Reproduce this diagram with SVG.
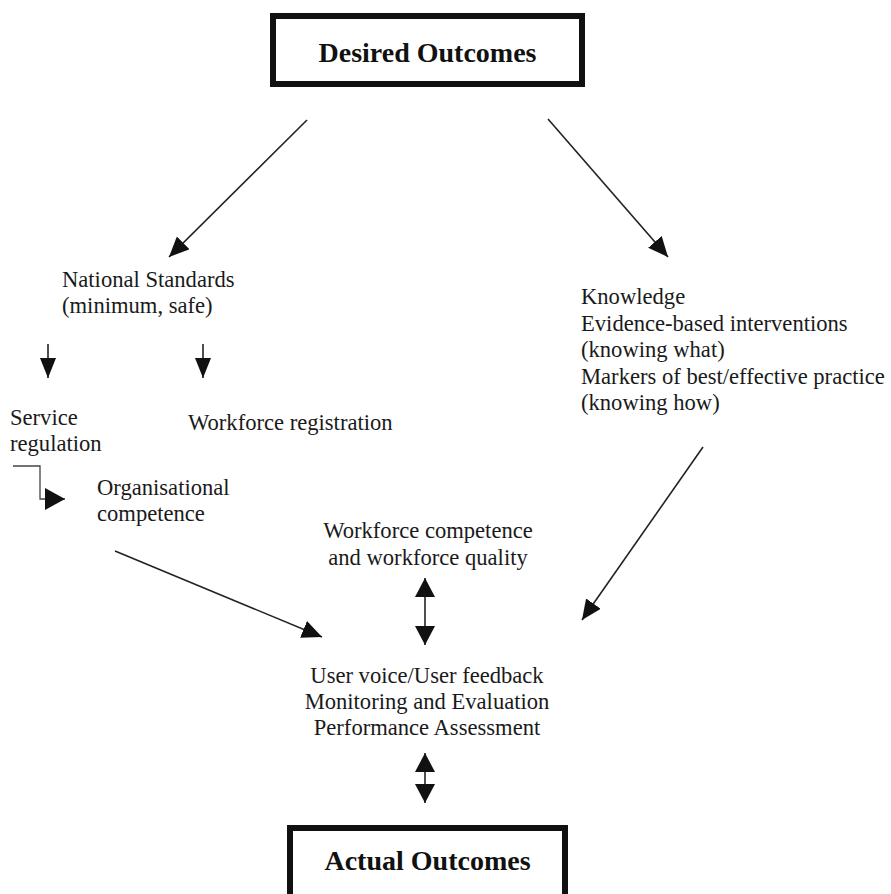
<svg xmlns="http://www.w3.org/2000/svg" width="891" height="894" viewBox="0 0 891 894">
<style>
  .t { font-family: "Liberation Serif", "Times New Roman", serif; font-size: 22.6px; fill: #1a1a1a; }
  .b { font-family: "Liberation Serif", "Times New Roman", serif; font-size: 28px; font-weight: bold; fill: #111; }
  .c { text-anchor: middle; }
  .box { fill: #fff; stroke: #111; stroke-width: 6; }
  .ln { fill: none; stroke: #222; stroke-width: 1.6; }
  .thin { fill: none; stroke: #444; stroke-width: 1.3; }
</style>
<defs>
  <marker id="ah" markerUnits="userSpaceOnUse" markerWidth="20" markerHeight="18" refX="20" refY="9" orient="auto-start-reverse">
    <path d="M0,0 L20,9 L0,18 z" fill="#111"/>
  </marker>
  <marker id="ahs" markerUnits="userSpaceOnUse" markerWidth="20" markerHeight="16" refX="20" refY="8" orient="auto-start-reverse">
    <path d="M0,0 L20,8 L0,16 z" fill="#111"/>
  </marker>
  <marker id="ahd" markerUnits="userSpaceOnUse" markerWidth="19" markerHeight="20" refX="19" refY="10" orient="auto-start-reverse">
    <path d="M0,0 L19,10 L0,20 z" fill="#111"/>
  </marker>
  <marker id="ahe" markerUnits="userSpaceOnUse" markerWidth="20" markerHeight="22" refX="20" refY="11" orient="auto">
    <path d="M0,0 L20,11 L0,22 z" fill="#111"/>
  </marker>
</defs>
<rect width="891" height="894" fill="#fff"/>

<g id="connectors">
  <line class="ln" x1="307" y1="120" x2="169" y2="257" marker-end="url(#ah)"/>
  <line class="ln" x1="548" y1="119" x2="668" y2="257" marker-end="url(#ah)"/>
  <line class="ln" x1="48" y1="344" x2="48" y2="378" marker-end="url(#ahs)"/>
  <line class="ln" x1="203" y1="344" x2="203" y2="378" marker-end="url(#ahs)"/>
  <polyline class="thin" points="13,466 40,466 40,499 65,499" marker-end="url(#ahe)"/>
  <line class="ln" x1="115" y1="551" x2="322" y2="637" marker-end="url(#ah)"/>
  <line class="ln" x1="703" y1="447" x2="582" y2="620" marker-end="url(#ah)"/>
  <line class="ln" x1="425" y1="578" x2="425" y2="645" marker-start="url(#ahd)" marker-end="url(#ahd)"/>
  <line class="ln" x1="425" y1="753" x2="425" y2="803" marker-start="url(#ahd)" marker-end="url(#ahd)"/>
</g>

<g id="desired-outcomes">
  <rect class="box" x="273" y="16" width="309" height="68"/>
  <text class="b c" x="427.5" y="62">Desired Outcomes</text>
</g>

<g id="national-standards">
  <text class="t" x="62" y="287">National Standards</text>
  <text class="t" x="62" y="313">(minimum, safe)</text>
</g>

<g id="knowledge">
  <text class="t" x="581" y="304">Knowledge</text>
  <text class="t" x="581" y="331">Evidence-based interventions</text>
  <text class="t" x="581" y="357">(knowing what)</text>
  <text class="t" x="581" y="384">Markers of best/effective practice</text>
  <text class="t" x="581" y="410">(knowing how)</text>
</g>

<g id="service-regulation">
  <text class="t" x="10" y="425">Service</text>
  <text class="t" x="10" y="451">regulation</text>
</g>

<g id="workforce-registration">
  <text class="t" x="188" y="430">Workforce registration</text>
</g>

<g id="organisational-competence">
  <text class="t" x="97" y="495">Organisational</text>
  <text class="t" x="97" y="521">competence</text>
</g>

<g id="workforce-competence">
  <text class="t c" x="428" y="538">Workforce competence</text>
  <text class="t c" x="428" y="565">and workforce quality</text>
</g>

<g id="user-voice">
  <text class="t c" x="427" y="683">User voice/User feedback</text>
  <text class="t c" x="427" y="709">Monitoring and Evaluation</text>
  <text class="t c" x="427" y="735">Performance Assessment</text>
</g>

<g id="actual-outcomes">
  <rect class="box" x="290" y="828" width="275" height="80"/>
  <text class="b c" x="427.5" y="870">Actual Outcomes</text>
</g>
</svg>
